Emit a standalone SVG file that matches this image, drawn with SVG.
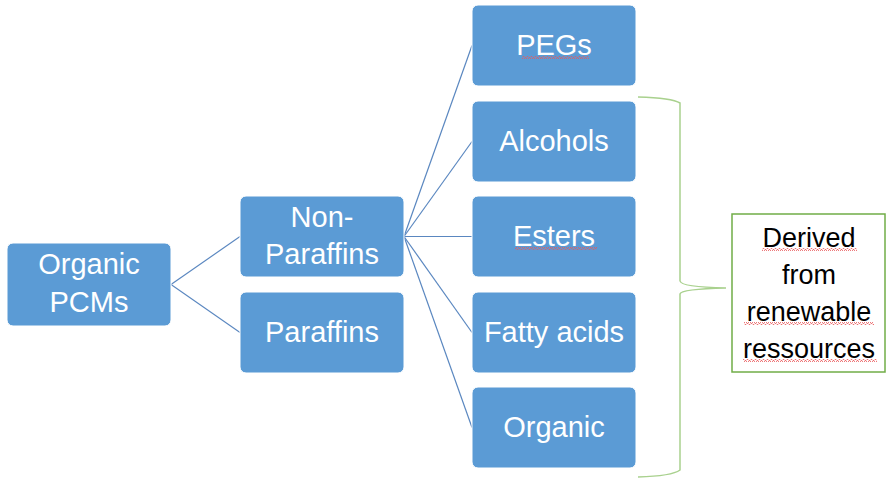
<svg xmlns="http://www.w3.org/2000/svg" width="886" height="478" viewBox="0 0 886 478">
<defs>
<pattern id="wavy" x="0" y="0" width="4" height="3" patternUnits="userSpaceOnUse">
<path d="M0,2.5 L1,0.5 L2,0.5 L3,2.5 L4,2.5" fill="none" stroke="#E8585A" stroke-width="0.8"/>
</pattern>
</defs>
<style>
.box{fill:#5B9BD5;stroke:#FFFFFF;stroke-width:1}
.lbl{font-family:"Liberation Sans",Arial,sans-serif;font-size:29px;fill:#FFFFFF;text-anchor:middle}
.note{font-family:"Liberation Sans",Arial,sans-serif;font-size:27px;fill:#000000;text-anchor:middle}
.conn{stroke:#5A87C0;stroke-width:1.2;fill:none}
.brace{stroke:#A9D18E;stroke-width:1.5;fill:none}
.sq{fill:url(#wavy)}
</style>
<rect width="886" height="478" fill="#FFFFFF"/>
<g id="connectors">
<line class="conn" x1="171" y1="284.5" x2="240" y2="236.5"/>
<line class="conn" x1="171" y1="284.5" x2="240" y2="332.5"/>
<line class="conn" x1="404" y1="236.5" x2="472" y2="45.5"/>
<line class="conn" x1="404" y1="236.5" x2="472" y2="141.5"/>
<line class="conn" x1="404" y1="236.5" x2="472" y2="236.5"/>
<line class="conn" x1="404" y1="236.5" x2="472" y2="332.5"/>
<line class="conn" x1="404" y1="236.5" x2="472" y2="427.5"/>
</g>
<g id="organic-pcms">
<rect class="box" x="7" y="243" width="164" height="83" rx="6"/>
<text class="lbl" x="89" y="274">Organic</text>
<text class="lbl" x="89" y="312">PCMs</text>
</g>
<g id="non-paraffins">
<rect class="box" x="240" y="196" width="164" height="81" rx="6"/>
<text class="lbl" x="322" y="227">Non-</text>
<text class="lbl" x="322" y="264">Paraffins</text>
</g>
<g id="paraffins">
<rect class="box" x="240" y="292" width="164" height="81" rx="6"/>
<text class="lbl" x="322" y="342">Paraffins</text>
</g>
<g id="pegs">
<rect class="box" x="472" y="5" width="164" height="81" rx="6"/>
<text class="lbl" x="554" y="55">PEGs</text>
<rect class="sq" x="522" y="56" width="67" height="3"/>
</g>
<g id="alcohols">
<rect class="box" x="472" y="101" width="164" height="81" rx="6"/>
<text class="lbl" x="554" y="151">Alcohols</text>
</g>
<g id="esters">
<rect class="box" x="472" y="196" width="164" height="81" rx="6"/>
<text class="lbl" x="554" y="246">Esters</text>
<rect class="sq" x="515" y="247" width="82" height="3"/>
</g>
<g id="fatty-acids">
<rect class="box" x="472" y="292" width="164" height="81" rx="6"/>
<text class="lbl" x="554" y="342">Fatty acids</text>
</g>
<g id="organic">
<rect class="box" x="472" y="387" width="164" height="81" rx="6"/>
<text class="lbl" x="554" y="437">Organic</text>
</g>
<g id="brace">
<path class="brace" d="M638,97 Q672,98 680,103 L680,281 Q681,287 726,288 Q681,289 680,294 L680,470 Q672,476 638,477"/>
</g>
<g id="derived-note">
<rect x="732" y="214" width="153" height="158" fill="#FFFFFF" stroke="#70AD47" stroke-width="1.5"/>
<text class="note" x="809" y="247">Derived</text>
<text class="note" x="809" y="284">from</text>
<text class="note" x="809" y="321">renewable</text>
<text class="note" x="809" y="358">ressources</text>
<rect class="sq" x="762" y="248" width="95" height="3"/>
<rect class="sq" x="744" y="322" width="130" height="3"/>
<rect class="sq" x="743" y="359" width="134" height="3"/>
</g>
</svg>
